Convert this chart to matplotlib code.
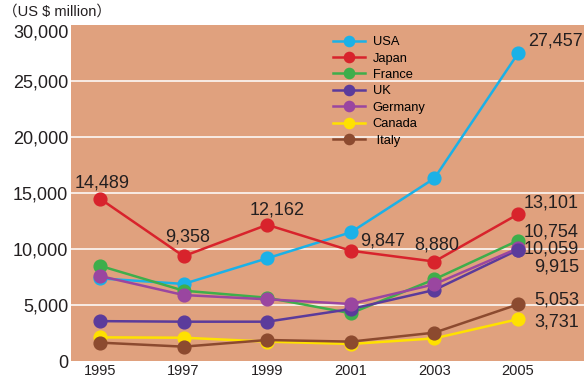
import matplotlib.pyplot as plt

# Werte (US $ million)
years = [1995, 1997, 1999, 2001, 2003, 2005]
usa = [7380, 6880, 9170, 11490, 16310, 27457]
japan = [14489, 9358, 12162, 9847, 8880, 13101]
france = [8500, 6280, 5650, 4260, 7290, 10754]
uk = [3560, 3510, 3510, 4640, 6340, 9915]
germany = [7590, 5890, 5510, 5090, 6850, 10059]
canada = [2110, 2080, 1730, 1520, 2020, 3731]
italy = [1640, 1280, 1875, 1730, 2530, 5053]

countries = ['USA', 'Japan', 'France', 'UK', 'Germany', 'Canada', ' Italy']
series = [usa, japan, france, uk, germany, canada, italy]
colors = ['#1BB1E7', '#D8232C', '#3EAE4B', '#5B3B9B', '#9A46A0', '#FFE100', '#8C4A2F']

yticks = [0, 5000, 10000, 15000, 20000, 25000, 30000]
ytick_labels = ['0', '5,000', '10,000', '15,000', '20,000', '25,000', '30,000']

# Beschriftungen: (Jahr, Wert, Text, Versatz in Pixel, Ausrichtung)
labels = [
    (1995, 14489, '14,489', (2, 16), 'center'),
    (1997, 9358, '9,358', (4, 19), 'center'),
    (1999, 12162, '12,162', (10, 15), 'center'),
    (2001, 9847, '9,847', (32, 10), 'center'),
    (2003, 8880, '8,880', (2, 17), 'center'),
    (2005, 27457, '27,457', (65, 12), 'right'),
    (2005, 13101, '13,101', (61, 11), 'right'),
    (2005, 10754, '10,754', (61, 9), 'right'),
    (2005, 10059, '10,059', (61, -1), 'right'),
    (2005, 9915, '9,915', (61, -17), 'right'),
    (2005, 5053, '5,053', (61, 4), 'right'),
    (2005, 3731, '3,731', (61, -3), 'right'),
]

plt.rcParams['font.family'] = ['Liberation Sans', 'Noto Sans CJK JP', 'DejaVu Sans']

fig = plt.figure(figsize=(5.84, 3.77), dpi=100)
ax = fig.add_axes([71 / 584, 16 / 377, 513 / 584, 336 / 377])
ax.set_facecolor('#E0A17E')

for vals, name, c in zip(series, countries, colors):
    ax.plot(years, vals, color=c, lw=1.8, marker='o', markersize=9.2, label=name)

# UK-Punkt 2005 liegt im Original ueber Germany
ax.plot(years[-1:], uk[-1:], 'o', color=colors[3], markersize=9.2, zorder=3)

for y in yticks[1:-1]:
    ax.axhline(y, color='white', lw=1.3, alpha=0.85, zorder=1)

ax.set_xlim(1994.306, 2006.58)
ax.set_ylim(0, 30000)
ax.set_xticks(years)
ax.set_xticklabels([str(y) for y in years], fontsize=10.5)
ax.set_yticks(yticks)
ax.set_yticklabels(ytick_labels, fontsize=13)
ax.tick_params(length=0, pad=2, colors='#231F20')
# oberste Beschriftung haengt unter der Oberkante
ax.get_yticklabels()[-1].set_va('top')
for s in ax.spines.values():
    s.set_visible(False)

for x, v, t, off, ha in labels:
    ax.annotate(t, (x, v), xytext=off, textcoords='offset pixels',
                ha=ha, va='center', fontsize=13, color='#231F20')

ax.legend(loc='upper left', bbox_to_anchor=(0.511, 0.967), frameon=False,
          borderpad=0, borderaxespad=0, fontsize=9.3, handlelength=2.5,
          handletextpad=0.55, labelspacing=0.34, markerscale=0.8)

fig.text(3 / 584, 1 - 12 / 377, '（US $ million）', fontsize=10.5, va='center',
         color='#231F20')

fig.savefig('out.png', dpi=100, facecolor='white')
